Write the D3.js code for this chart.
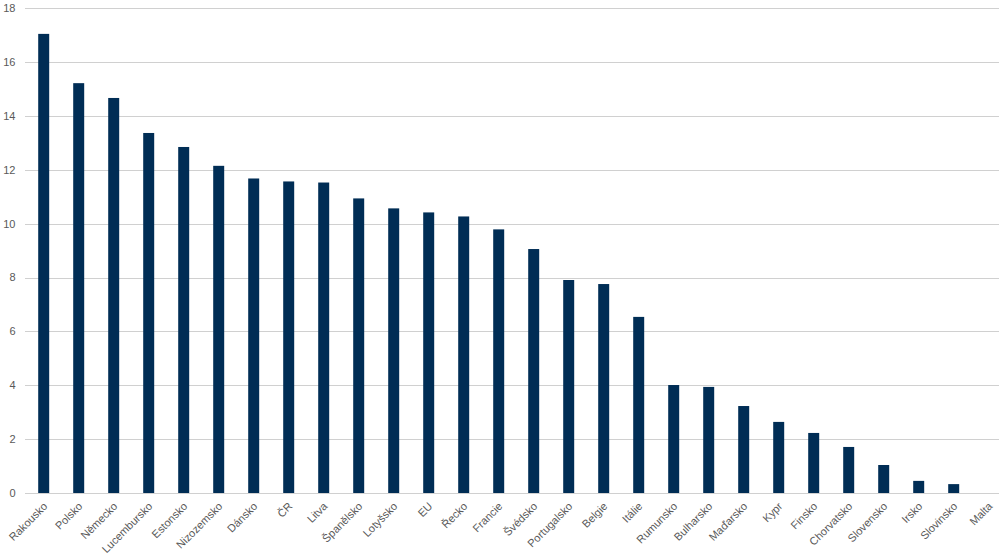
<!DOCTYPE html>
<html><head><meta charset="utf-8">
<script src="https://cdn.jsdelivr.net/npm/d3@7"></script>
<style>body{margin:0;background:#fff}svg{display:block}text{font-family:"Liberation Sans",Arial,sans-serif}</style>
</head><body><svg id="c" width="999" height="557"></svg>
<script>
const categories = ["Rakousko","Polsko","Německo","Lucembursko","Estonsko","Nizozemsko","Dánsko","ČR","Litva","Španělsko","Lotyšsko","EU","Řecko","Francie","Švédsko","Portugalsko","Belgie","Itálie","Rumunsko","Bulharsko","Maďarsko","Kypr","Finsko","Chorvatsko","Slovensko","Irsko","Slovinsko","Malta"];
const values = [17.05,15.22,14.67,13.37,12.85,12.15,11.68,11.57,11.53,10.94,10.57,10.42,10.27,9.79,9.06,7.91,7.76,6.54,4.01,3.94,3.23,2.64,2.23,1.71,1.04,0.45,0.33,0];
const yTicks = [0,2,4,6,8,10,12,14,16,18];

const svg = d3.select("#c");
const mLeft = 26.2, mRight = 26.2 + 28 * 35, mTop = 8.3, mBottom = 493;
const x = d3.scaleBand().domain(categories).range([mLeft, mRight]).paddingInner(0.686).paddingOuter(0.343);
const y = d3.scaleLinear().domain([0, 18]).range([mBottom, mTop]);

svg.append("g").selectAll("line").data(yTicks).join("line")
  .attr("x1", 25).attr("x2", 999)
  .attr("y1", d => Math.round(y(d)) + 0.5).attr("y2", d => Math.round(y(d)) + 0.5)
  .attr("stroke", "#d0d0d0").attr("stroke-width", 1);

svg.append("g").selectAll("text").data(yTicks).join("text")
  .attr("x", 15.5).attr("y", d => y(d)).attr("dy", "0.35em")
  .attr("text-anchor", "end").attr("font-size", 11).attr("fill", "#595959")
  .text(d => d);

svg.append("g").selectAll("rect").data(values).join("rect")
  .attr("x", (d, i) => x(categories[i])).attr("width", x.bandwidth())
  .attr("y", d => y(d)).attr("height", d => y(0) - y(d))
  .attr("fill", "#002d55");

svg.append("g").selectAll("text").data(categories).join("text")
  .attr("transform", d => `translate(${x(d) + x.bandwidth() / 2 + 4.5},${mBottom + 14}) rotate(-45)`)
  .attr("text-anchor", "end").attr("font-size", 11).attr("fill", "#595959")
  .text(d => d);
</script></body></html>
